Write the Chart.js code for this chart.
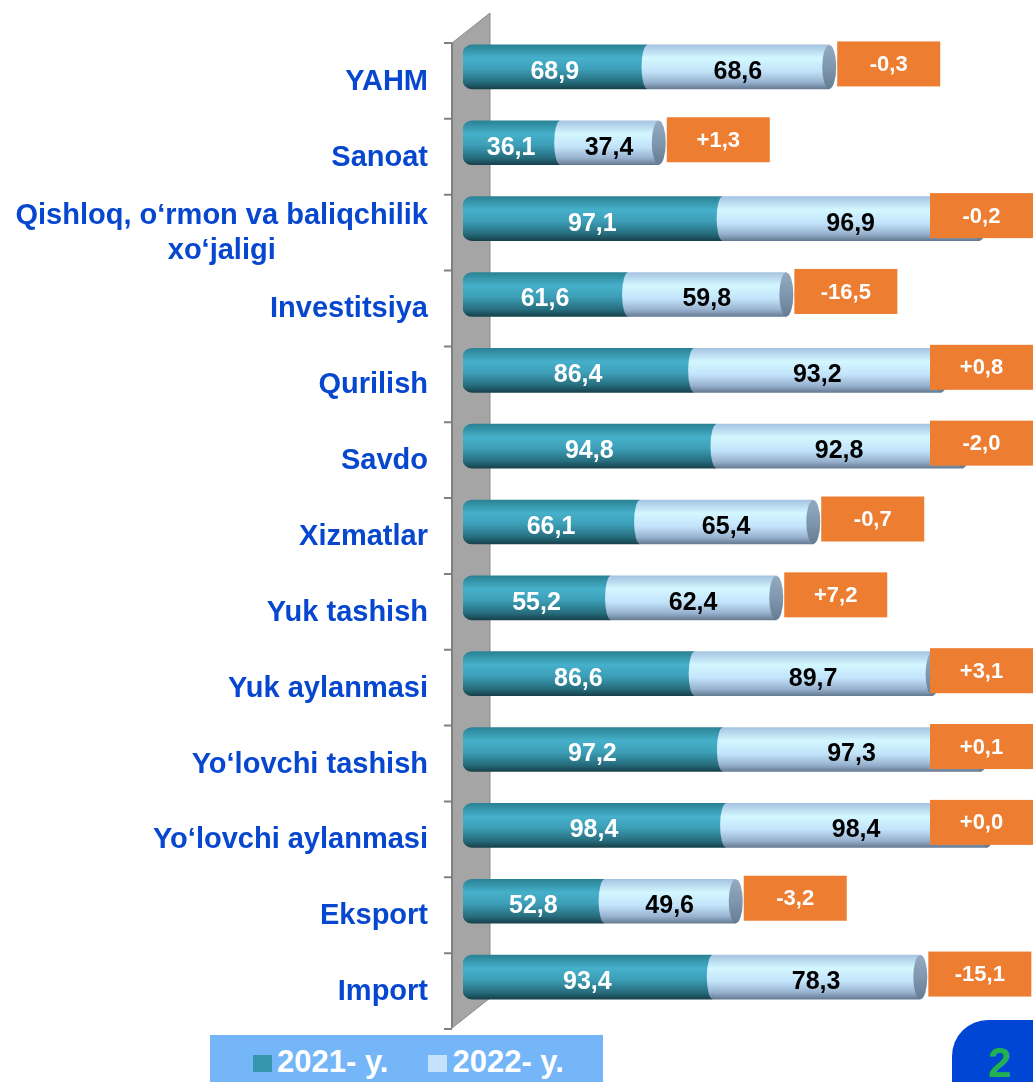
<!DOCTYPE html>
<html>
<head>
<meta charset="utf-8">
<script src="https://cdn.jsdelivr.net/npm/chart.js@4.4.1/dist/chart.umd.min.js"></script>
<style>
  body { margin: 0; background: #fff; font-family: "Liberation Sans", Arial, sans-serif; }
  #wrap { position: relative; width: 1033px; height: 1082px; overflow: hidden; }
  #legend { position: absolute; left: 210px; top: 1035px; width: 393px; height: 44px; padding-top: 3px;
            background: #74b6f8; color: #fff; font-weight: bold; font-size: 31px; line-height: 47px;
            white-space: nowrap; }
  #legend .item { display: inline-block; margin-left: 43px; }
  #legend .item + .item { margin-left: 40px; }
  #legend .sw { display: inline-block; width: 19px; height: 17px; margin-right: 5px; vertical-align: baseline; }
  #badge { position: absolute; left: 952px; top: 1020px; width: 130px; height: 100px; border-radius: 36px;
           background: #0046d5; }
  #badge span { position: absolute; left: 36px; top: 22px; font-size: 42px; line-height: 42px; font-weight: bold; color: #21b24f; }
</style>
</head>
<body>
<div id="wrap">
  <canvas id="chart" width="1033" height="1082"></canvas>
  <div id="legend"></div>
  <div id="badge"><span>2</span></div>
</div>
<script>
// Data
const categories = ['YAHM', 'Sanoat', ['Qishloq, o‘rmon va baliqchilik', 'xo‘jaligi'], 'Investitsiya', 'Qurilish',
    'Savdo', 'Xizmatlar', 'Yuk tashish', 'Yuk aylanmasi', 'Yo‘lovchi tashish', 'Yo‘lovchi aylanmasi', 'Eksport', 'Import'];
const values2021 = [68.9, 36.1, 97.1, 61.6, 86.4, 94.8, 66.1, 55.2, 86.6, 97.2, 98.4, 52.8, 93.4];
const values2022 = [68.6, 37.4, 96.9, 59.8, 93.2, 92.8, 65.4, 62.4, 89.7, 97.3, 98.4, 49.6, 78.3];
const changes = [-0.3, 1.3, -0.2, -16.5, 0.8, -2.0, -0.7, 7.2, 3.1, 0.1, 0.0, -3.2, -15.1];
const seriesNames = ['2021- y.', '2022- y.'];

const BAR_H = 44;
const tealStops = [[0, '#2a8294'], [0.3, '#46b0ca'], [0.55, '#3d9fb8'], [0.85, '#266c7c'], [1, '#17414b']];
const lightStops = [[0, '#a6c4e2'], [0.3, '#d3f7ff'], [0.6, '#c2e3fa'], [0.85, '#97b1ce'], [1, '#667b93']];
const swatchColors = ['#3596ac', '#c6e2fb'];

const fmt = v => v.toFixed(1).replace('.', ',');

// legend below the chart
const legendEl = document.getElementById('legend');
seriesNames.forEach((name, i) => {
    const item = document.createElement('span');
    item.className = 'item';
    const sw = document.createElement('span');
    sw.className = 'sw';
    sw.style.background = swatchColors[i];
    item.appendChild(sw);
    item.appendChild(document.createTextNode(name));
    legendEl.appendChild(item);
});

function gradient(c, y, stops) {
    const g = c.createLinearGradient(0, y - BAR_H / 2, 0, y + BAR_H / 2);
    stops.forEach(([o, col]) => g.addColorStop(o, col));
    return g;
}

function cylinder(stops) {
    return (context) => {
        const chart = context.chart;
        if (context.type !== 'data' || !chart.scales.y) return stops[1][1];
        const yc = chart.scales.y.getPixelForValue(context.dataIndex);
        if (!isFinite(yc)) return stops[1][1];
        return gradient(chart.ctx, yc, stops);
    };
}

// gray 3D wall behind the bars
const wallPlugin = {
    id: 'wall',
    beforeDatasetsDraw(chart) {
        const c = chart.ctx;
        const {left, top, bottom} = chart.chartArea;
        const fx = left - 11, bx = left + 27;
        c.save();
        c.beginPath();
        c.moveTo(fx, top + 14);
        c.lineTo(bx, top - 16);
        c.lineTo(bx, bottom - 17);
        c.lineTo(fx, bottom + 13);
        c.closePath();
        c.fillStyle = '#a5a5a5';
        c.fill();
        c.strokeStyle = '#8a8a8a';
        c.lineWidth = 1;
        c.stroke();
        c.strokeStyle = '#808080';
        c.lineWidth = 2;
        c.beginPath();
        c.moveTo(fx, top + 14);
        c.lineTo(fx, bottom + 13);
        const step = (bottom - top) / categories.length;
        for (let k = 0; k <= categories.length; k++) {
            const y = top + 14 + k * step;
            c.moveTo(fx - 8, y);
            c.lineTo(fx, y);
        }
        c.stroke();
        c.restore();
    }
};

const labelPlugin = {
    id: 'labels',
    afterDatasetsDraw(chart) {
        const c = chart.ctx;
        const {left, right} = chart.chartArea;
        const m0 = chart.getDatasetMeta(0), m1 = chart.getDatasetMeta(1);
        c.save();

        // cylinder ends
        m1.data.forEach(el => {
            c.beginPath();
            c.ellipse(el.base + 1, el.y, 6, BAR_H / 2, 0, -Math.PI / 2, Math.PI / 2, true);
            c.fillStyle = gradient(c, el.y, lightStops);
            c.fill();
            c.beginPath();
            c.ellipse(el.x, el.y, 7, BAR_H / 2, 0, 0, Math.PI * 2);
            c.fillStyle = gradient(c, el.y, [[0, '#94aac0'], [0.5, '#7f97af'], [1, '#667c93']]);
            c.fill();
        });

        // values inside bars
        c.font = 'bold 25px "Liberation Sans", Arial, sans-serif';
        c.textAlign = 'center';
        c.textBaseline = 'middle';
        [[m0, values2021, '#ffffff'], [m1, values2022, '#000000']].forEach(([meta, vals, col]) => {
            c.fillStyle = col;
            meta.data.forEach((el, i) => {
                c.fillText(fmt(vals[i]), (el.x + el.base) / 2, el.y + 5);
            });
        });

        // orange change boxes
        const boxW = 103, boxH = 45;
        c.font = 'bold 22px "Liberation Sans", Arial, sans-serif';
        m1.data.forEach((el, i) => {
            const x = Math.min(el.x + 8, right - boxW);
            const y = el.y - 3 - boxH / 2;
            c.fillStyle = '#ed7d31';
            c.fillRect(x, y, boxW, boxH);
            c.fillStyle = '#ffffff';
            const v = changes[i];
            c.fillText((v >= 0 ? '+' : '') + fmt(v), x + boxW / 2, y + boxH / 2 + 1);
        });

        // category names
        const yScale = chart.scales.y;
        c.font = 'bold 29px "Liberation Sans", Arial, sans-serif';
        c.fillStyle = '#0747cf';
        const lineH = 35;
        categories.forEach((lab, i) => {
            const lines = Array.isArray(lab) ? lab : [lab];
            const w = Math.max(...lines.map(s => c.measureText(s).width));
            const cx = left - 35 - w / 2;
            const yc = yScale.getPixelForValue(i) + 15;
            lines.forEach((s, k) => {
                c.fillText(s, cx, yc + (k - (lines.length - 1) / 2) * lineH);
            });
        });
        c.restore();
    }
};

const chart = new Chart(document.getElementById('chart').getContext('2d'), {
    type: 'bar',
    data: {
        labels: categories,
        datasets: [{
            label: seriesNames[0],
            data: values2021,
            backgroundColor: cylinder(tealStops),
            borderSkipped: false,
            borderRadius: {topLeft: 9, bottomLeft: 9, topRight: 0, bottomRight: 0},
            barThickness: BAR_H,
        }, {
            label: seriesNames[1],
            data: values2022,
            backgroundColor: cylinder(lightStops),
            borderSkipped: false,
            borderRadius: 0,
            barThickness: BAR_H,
        }]
    },
    options: {
        indexAxis: 'y',
        responsive: false,
        animation: false,
        layout: {padding: {top: 29, bottom: 67, left: 0, right: 0}},
        scales: {
            x: {stacked: true, min: 0, max: 214, display: false},
            y: {
                stacked: true,
                grid: {display: false, drawTicks: false},
                border: {display: false},
                ticks: {display: false},
                afterFit: (scale) => { scale.width = 463; },
            },
        },
        plugins: {
            legend: {display: false},
            tooltip: {enabled: false},
        },
    },
    plugins: [wallPlugin, labelPlugin],
});
</script>
</body>
</html>
